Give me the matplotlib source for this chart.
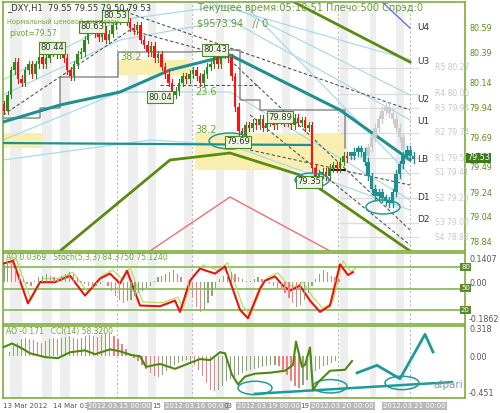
import matplotlib
matplotlib.use("Agg")
import matplotlib.pyplot as plt
from matplotlib.patches import Ellipse, Rectangle

# ---------------- data ----------------
closes = [79.92, 80.05, 80.25, 80.32, 80.18, 80.15, 80.25, 80.30, 80.22, 80.30, 80.36,
          80.30, 80.35, 80.40, 80.45, 80.38, 80.42, 80.35, 80.25, 80.20, 80.30, 80.38, 80.40,
          80.50, 80.60, 80.62, 80.55, 80.52, 80.58, 80.50, 80.55, 80.62, 80.66, 80.70,
          80.73, 80.65, 80.60, 80.58, 80.62, 80.50, 80.46, 80.40, 80.45, 80.35, 80.38,
          80.28, 80.22, 80.15, 80.05, 80.08, 80.15, 80.20, 80.18, 80.22, 80.25, 80.20, 80.15,
          80.22, 80.28, 80.30, 80.36, 80.30, 80.38, 80.40, 80.35, 80.20, 79.95, 79.75,
          79.72, 79.80, 79.78, 79.82, 79.80, 79.85, 79.78, 79.82, 79.86, 79.80, 79.84, 79.88,
          79.82, 79.85, 79.80, 79.86, 79.82, 79.84, 79.78, 79.80, 79.45, 79.38,
          79.40, 79.42, 79.38, 79.45, 79.47, 79.45, 79.50, 79.55, 79.53]
forecast = [79.55, 79.58, 79.60, 79.58, 79.50, 79.38, 79.28, 79.22, 79.25, 79.20, 79.18,
            79.16, 79.25, 79.40, 79.48, 79.55, 79.60, 79.55, 79.52]
ghost = [79.55, 79.62, 79.70, 79.78, 79.85, 79.92, 79.95, 79.90, 79.85, 79.78, 79.70, 79.60, 79.55]
right_ticks = [80.59, 80.39, 80.14, 79.94, 79.69, 79.49, 79.24, 79.04, 78.84]
pivots = [("R5", 80.27), ("R4", 80.06), ("R3", 79.94), ("R2", 79.74), ("R1", 79.53),
          ("S1", 79.41), ("S2", 79.20), ("S3", 79.00), ("S4", 78.88)]
stoch_x = [3, 13, 28, 40, 55, 70, 85, 100, 110, 120, 127, 140, 160, 175, 180, 190, 200, 215,
           225, 240, 248, 260, 265, 275, 283, 290, 300, 310, 320, 330, 340, 348, 353]
stoch_v = [85, 89, 29, 59, 59, 68, 40, 64, 71, 57, 75, 26, 25, 33, 17, 61, 78, 71,
           81, 20, 8, 50, 61, 67, 54, 47, 54, 33, 17, 26, 84, 69, 73]
ao1 = [0.10, 0.12, 0.11, 0.08, 0.05, 0.02, -0.01, -0.02, 0.01, 0.03, 0.04, 0.05, 0.04, 0.03,
       0.02, 0.04, 0.05, 0.06, 0.05, 0.03, 0.01, -0.01, -0.02, -0.03, -0.02, -0.01, 0.00,
       -0.02, -0.05, -0.08, -0.10, -0.12, -0.11, -0.10, -0.08, -0.06, -0.05, -0.03, -0.02,
       0.01, 0.03, 0.04, 0.05, 0.06, 0.07, 0.05, 0.03, 0.00, -0.04, -0.09, -0.14, -0.17,
       -0.16, -0.12, -0.08, -0.03, 0.02, 0.04, 0.05, 0.06, 0.05, 0.03, 0.02, 0.01, 0.01,
       0.02, 0.03, 0.02, 0.01, -0.01, -0.02, -0.03, -0.04, -0.06, -0.09, -0.12, -0.14,
       -0.13, -0.10, -0.06, -0.02, 0.02, 0.05, 0.07, 0.06, 0.04, 0.03, 0.02]
ao2 = [0.05, 0.12, 0.16, 0.20, 0.22, 0.21, 0.19, 0.17, 0.16, 0.18, 0.20, 0.22, 0.21, 0.22,
       0.23, 0.24, 0.22, 0.20, 0.22, 0.24, 0.25, 0.24, 0.23, 0.25, 0.27, 0.26, 0.24, 0.20,
       0.15, 0.08, 0.03, -0.02, -0.06, -0.10, -0.15, -0.20, -0.24, -0.25, -0.22, -0.18,
       -0.14, -0.10, -0.08, -0.06, -0.05, -0.07, -0.10, -0.16, -0.24, -0.32, -0.40, -0.42,
       -0.40, -0.36, -0.30, -0.27, -0.25, -0.22, -0.20, -0.18, -0.16, -0.15, -0.14, -0.13,
       -0.12, -0.11, -0.10, -0.12, -0.16, -0.22, -0.30, -0.36, -0.38, -0.34, -0.28, -0.22,
       -0.18, -0.15, -0.12, -0.10, -0.08, -0.06]
cci_x = [3, 12, 22, 30, 45, 58, 70, 85, 95, 110, 120, 132, 140, 146, 160, 175, 190, 200,
         210, 220, 225, 232, 238, 245, 255, 270, 285, 293, 296, 302, 305, 310, 313, 318,
         330, 345, 352]
cci_v = [60, 80, 55, 30, 10, 5, 35, 45, 25, 50, 40, 20, 15, -40, -25, -50, -20, 0,
         -5, 35, 30, -80, -130, -90, -75, -70, -60, -30, 90, -40, -30, 60, -160, -120,
         -60, -55, -10]
fc_x = [357, 377, 400, 425, 433]
fc_v = [-0.20, -0.11, -0.27, 0.26, 0.05]

# ---------------- layout helpers ----------------
W, H = 500, 413
def px(x):  # pixel x -> bar index
    return (x - 4) / 3.5
def ypr(y):  # pixel y -> price in main panel
    return 80.81 - (y - 2) / 122.0

fig = plt.figure(figsize=(5, 4.13), dpi=100)
fig.patch.set_facecolor("white")
frame = "#7fae3a"

def mkax(top, bot):
    ax = fig.add_axes([3 / W, 1 - bot / H, 462 / W, (bot - top) / H])
    for s in ax.spines.values():
        s.set_color(frame); s.set_linewidth(1.2)
    ax.set_xticks([]); ax.set_yticks([])
    ax.set_xlim(px(3), px(465))
    return ax

ax = mkax(2, 251)
ax.set_ylim(ypr(251), ypr(2))
ax2 = mkax(253, 324)
ax2.set_ylim(0, 100)
ax3 = mkax(326, 398)

stripes = [(10, 22), (42, 52), (60, 70), (95, 105), (128, 138), (148, 156), (184, 192),
           (216, 224), (246, 254), (282, 290), (306, 314), (340, 348), (370, 376), (396, 404)]
for a in (ax, ax2, ax3):
    for s0, s1 in stripes:
        a.axvspan(px(s0), px(s1), color="#eeeeee", zorder=0, lw=0)
    for vx in (117, 192, 338, 410):
        a.axvline(px(vx), color="#bbbbbb", ls=(0, (2, 2)), lw=0.8, zorder=0.5)

for (x0, x1, y0, y1) in [(3, 43, 133, 148), (118, 190, 60, 75), (195, 345, 133, 170)]:
    ax.add_patch(Rectangle((px(x0), ypr(y1)), px(x1) - px(x0), ypr(y0) - ypr(y1),
                           color="#f7eeb0", zorder=0.6, lw=0))

def line(a, pts, **kw):
    a.plot([px(p[0]) for p in pts], [ypr(p[1]) for p in pts], **kw)

for pts in [[(3, 95), (120, 40), (230, 20), (410, 120)], [(3, 80), (120, 20), (230, 5), (410, 95)],
            [(3, 140), (120, 92), (230, 92), (410, 200)], [(3, 160), (150, 140), (230, 145), (410, 210)],
            [(250, 10), (410, 175)], [(200, 0), (410, 60)]]:
    line(ax, pts, color="#a8dcea", lw=0.9, zorder=1)
for pts in [[(3, 115), (130, 30), (240, 60)], [(120, 10), (410, 110)], [(230, 60), (410, 230)],
            [(250, 150), (410, 185)], [(250, 115), (410, 245)], [(160, 85), (260, 85)]]:
    line(ax, pts, color="#555555", lw=0.8, ls=(0, (3, 2)), zorder=1.5)
line(ax, [(290, 0), (410, 62)], color="#5a8a10", lw=2, zorder=2)
line(ax, [(60, 251), (170, 160), (230, 153), (300, 175), (410, 251)], color="#5a8a10", lw=2, zorder=2)
line(ax, [(150, 251), (230, 197), (330, 251)], color="#f07070", lw=1, zorder=2)
line(ax, [(380, 0), (410, 28)], color="#6b6bf0", lw=1, zorder=2)
line(ax, [(3, 122), (60, 105), (120, 92), (170, 70), (230, 55), (280, 80), (340, 110), (410, 160)],
     color="#1f9090", lw=2.2, zorder=3)
line(ax, [(3, 143), (310, 145)], color="#1f9090", lw=1.6, zorder=3)
line(ax, [(3, 118), (40, 118), (40, 108), (60, 108), (60, 77), (118, 77), (118, 52), (190, 52), (230, 50),
          (240, 50), (240, 100), (260, 100), (260, 110), (345, 110), (345, 148)], color="#777777", lw=0.9, zorder=2)
line(ax, [(330, 170), (345, 170)], color="black", lw=1.2, zorder=4)
for name, v in pivots:
    ax.plot([px(340), px(418)], [v, v], color="#dddddd", lw=1, zorder=0.8)
    ax.text(px(435), v, f"{name} {v:.2f}", fontsize=5.5, color="#c8c8c8", va="center", zorder=5)

wick = 0.03
prev = closes[0] + 0.05
for i, c in enumerate(closes):
    o = prev
    col = "#2e8a1a" if c >= o else "#ff1010"
    ax.plot([i, i], [min(o, c) - wick, max(o, c) + wick], color=col, lw=0.8, zorder=4)
    ax.add_patch(Rectangle((i - 0.35, min(o, c)), 0.7, max(abs(c - o), 0.005), color=col, zorder=4.5, lw=0))
    prev = c
n0 = len(closes)
prev = ghost[0]
for j, c in enumerate(ghost):
    i = n0 + 4 + j
    ax.plot([i, i], [min(prev, c) - 0.03, max(prev, c) + 0.03], color="#cccccc", lw=1, zorder=3.5)
    ax.add_patch(Rectangle((i - 0.45, min(prev, c)), 0.9, max(abs(c - prev), 0.02), color="#cccccc", zorder=3.5, lw=0))
    prev = c
prev = forecast[0]
for j, c in enumerate(forecast):
    i = n0 + j
    ax.plot([i, i], [min(prev, c) - 0.03, max(prev, c) + 0.03], color="#1f9090", lw=1, zorder=4)
    ax.add_patch(Rectangle((i - 0.45, min(prev, c)), 0.9, max(abs(c - prev), 0.03), color="#1f9090", zorder=4.5, lw=0))
    prev = c

for (cx, cy, w, h) in [(230, 141, 42, 16), (312, 180, 34, 14), (383, 207, 34, 14)]:
    ax.add_patch(Ellipse((px(cx), ypr(cy)), px(cx + w) - px(cx), ypr(cy) - ypr(cy + h),
                         fill=False, ec="#1f9a9a", lw=1.1, zorder=6))
for (x, y, t) in [(40, 48, "80.44"), (80, 27, "80.63"), (103, 16, "80.53"), (203, 50, "80.43"),
                  (148, 97, "80.04"), (226, 142, "79.69"), (268, 117, "79.89"), (297, 182, "79.35")]:
    ax.text(px(x), ypr(y), t, fontsize=6, color="#333333", va="center", zorder=7,
            bbox=dict(boxstyle="square,pad=0.15", fc="#eef5e0", ec="#4a8a2a", lw=0.8))
for (x, y, t) in [(120, 57, "38.2"), (195, 92, "23.6"), (195, 130, "38.2")]:
    ax.text(px(x), ypr(y), t, fontsize=7, color="#6aaa2a", va="center", zorder=7)
for (y, t) in [(28, "U4"), (62, "U3"), (99, "U2"), (122, "U1"), (160, "LB"), (197, "D1"), (220, "D2")]:
    ax.text(px(417), ypr(y), t, fontsize=6.5, color="#333333", va="center", zorder=7)
for v in right_ticks:
    yy = 2 + (80.81 - v) * 122
    if v == 79.49:
        yy += 4
    fig.text(469 / W, 1 - yy / H, f"{v:.2f}", fontsize=5.8, color="#5a8a1a", va="center")
fig.text(467 / W, 1 - 158 / H, "79.53", fontsize=5.8, color="white", va="center",
         bbox=dict(boxstyle="square,pad=0.1", fc="#3c7a1a", ec="none"))

fig.text(7 / W, 1 - 8 / H, "_DXY,H1  79.55 79.55 79.50 79.53", fontsize=6, color="#333333", va="center")
fig.text(197 / W, 1 - 8 / H, "Текущее время:05:18:51 Плечо:500 Спрэд:0", fontsize=7, color="#6a9a3a", va="center")
fig.text(197 / W, 1 - 24 / H, "$9573.94   // 0", fontsize=7, color="#6a9a3a", va="center")
fig.text(7 / W, 1 - 22 / H, "Нормальный ценовой диапазон", fontsize=4.8, color="#6aaa2a", va="center")
fig.text(9 / W, 1 - 33 / H, "pivot=79.57", fontsize=5.5, color="#6aaa2a", va="center")

a2b = ax2.twinx()
a2b.set_ylim(-0.24, 0.17); a2b.set_yticks([])
for s in a2b.spines.values(): s.set_visible(False)
for i, v in enumerate(ao1):
    col = "#8aa870" if (i == 0 or v >= ao1[i - 1]) else "#f08080"
    a2b.bar(i * 1.1, v, width=0.35, color=col, zorder=2)
for lv in (80, 50, 20):
    ax2.axhline(lv, color="#8abf5a", lw=1.3, zorder=3)
sx = [px(x) for x in stoch_x]
ax2.plot([s + 0.8 for s in sx], [min(v + 5, 100) for v in stoch_v], color="#b5e060", lw=0.9, zorder=4)
ax2.plot(sx, stoch_v, color="#ee1111", lw=1.5, zorder=5)
ax2.text(px(6), 93, "AO 0.0369   Stoch(5,3,3) 84.3750 75.1240", fontsize=5.5, color="#6aaa2a", va="center")
for (y, t) in [(260, "0.1407"), (283, "0.00"), (319, "-0.1862")]:
    fig.text(469 / W, 1 - y / H, t, fontsize=5.8, color="#555555", va="center")
for (y, t) in [(267, "80"), (288, "50"), (310, "20")]:
    fig.text(461 / W, 1 - y / H, t, fontsize=5, color="white", va="center",
             bbox=dict(boxstyle="square,pad=0.1", fc="#5a8a2a", ec="none"))

ax3.set_ylim(-0.50, 0.36)
for i, v in enumerate(ao2):
    col = "#8aa870" if (i == 0 or v >= ao2[i - 1]) else "#f08080"
    ax3.bar(1.5 + i * 1.15, v, width=0.35, color=col, zorder=2)
a3b = ax3.twinx()
a3b.set_ylim(-200, 170); a3b.set_yticks([])
for s in a3b.spines.values(): s.set_visible(False)
a3b.plot([px(x) for x in cci_x], cci_v, color="#4a8a10", lw=1.5, zorder=4)
ax3.plot([px(x) for x in fc_x], fc_v, color="#1f9a9a", lw=2, zorder=5)
ax3.plot([px(255), px(452)], [-0.45, -0.31], color="#1f9a9a", lw=1.8, zorder=5)
for (cx, cy) in [(255, -0.38), (330, -0.36), (402, -0.32)]:
    ax3.add_patch(Ellipse((px(cx), cy), px(cx + 34) - px(cx), 0.16, fill=False, ec="#1f9a9a", lw=1.1, zorder=6))
ax3.text(px(6), 0.30, "AO -0.171   CCI(14) 58.3200", fontsize=5.5, color="#6aaa2a", va="center", zorder=7)
ax3.text(px(433), -0.34, "alpari", fontsize=7.5, color="#7aa0b0", va="center", zorder=7)
for (y, t) in [(330, "0.318"), (357, "0.00"), (394, "-0.451")]:
    fig.text(469 / W, 1 - y / H, t, fontsize=5.8, color="#555555", va="center")

for (x, t, box) in [(3, "13 Mar 2012", False), (53, "14 Mar 03:", False), (88, "2012.03.15 00:00", True),
                    (152, "15", False), (165, "2012.03.16 00:00", True), (224, "03", False),
                    (237, "2012.03.19 00:00", True), (300, "19", False), (311, "2012.03.20 00:00", True),
                    (383, "2012.03.21 00:00", True)]:
    kw = dict(bbox=dict(boxstyle="square,pad=0.12", fc="#b8b8b8", ec="none")) if box else {}
    fig.text(x / W, 1 - 406 / H, t, fontsize=5, color="white" if box else "#555555", va="center", **kw)

fig.savefig("out.png", dpi=100)
